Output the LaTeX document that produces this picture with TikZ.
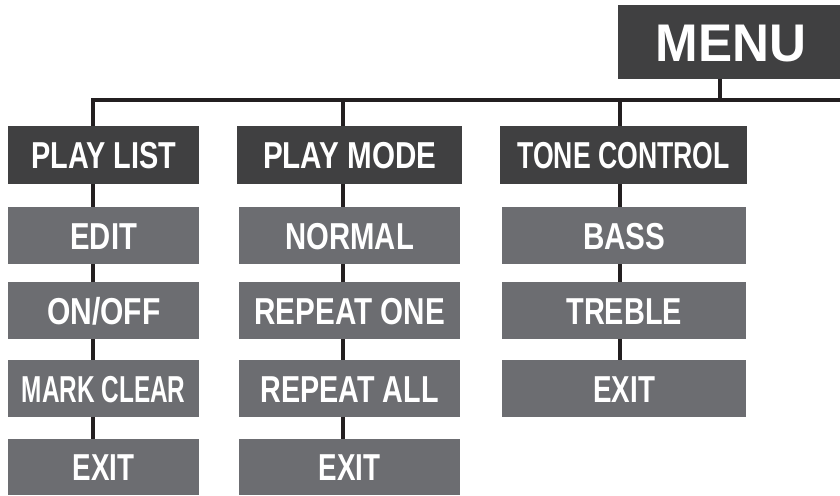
\documentclass[tikz,border=0pt]{standalone}
\usepackage{fontspec}
\setmainfont{Liberation Sans}
\usetikzlibrary{backgrounds}
\definecolor{hdr}{RGB}{64,64,65}
\definecolor{itm}{RGB}{108,109,113}
\definecolor{ln}{RGB}{35,31,32}
\newcommand\hsq[2]{\scalebox{#1}[1]{#2}}
\tikzset{
  box/.style={inner sep=0pt, text=white, anchor=north west,
    font=\bfseries\fontsize{37.5}{40}\selectfont, text height=27pt, text depth=0pt},
  hdrbox/.style={box, fill=hdr},
  itmbox/.style={box, fill=itm},
  conn/.style={draw=ln, line width=4pt, line join=miter},
}
\begin{document}
\begin{tikzpicture}[x=1pt,y=-1pt]
\useasboundingbox (0,0) rectangle (840,495);
% MENU
\node[box, fill=hdr, minimum width=226pt, minimum height=74pt,
  font=\bfseries\fontsize{53}{56}\selectfont, text height=38pt] (menu) at (618,5) {\hsq{0.965}{MENU}};
% column 1
\node[hdrbox, minimum width=191pt, minimum height=58pt] (pl) at (8,126) {\hsq{0.77}{PLAY LIST}};
\node[itmbox, minimum width=191pt, minimum height=57pt] (edit) at (8,207) {\hsq{0.78}{EDIT}};
\node[itmbox, minimum width=191pt, minimum height=57pt] (onoff) at (8,282) {\hsq{0.8}{ON/OFF}};
\node[itmbox, minimum width=191pt, minimum height=57pt] (mark) at (8,360) {\hsq{0.65}{MARK CLEAR}};
\node[itmbox, minimum width=191pt, minimum height=56pt] (exa) at (8,439) {\hsq{0.74}{EXIT}};
% column 2
\node[hdrbox, minimum width=225pt, minimum height=58pt] (pm) at (237,126) {\hsq{0.79}{PLAY MODE}};
\node[itmbox, minimum width=221pt, minimum height=57pt] (normal) at (239,207) {\hsq{0.78}{NORMAL}};
\node[itmbox, minimum width=221pt, minimum height=57pt] (rone) at (239,282) {\hsq{0.79}{REPEAT ONE}};
\node[itmbox, minimum width=221pt, minimum height=57pt] (rall) at (239,360) {\hsq{0.765}{REPEAT ALL}};
\node[itmbox, minimum width=221pt, minimum height=56pt] (exb) at (239,439) {\hsq{0.74}{EXIT}};
% column 3
\node[hdrbox, minimum width=247pt, minimum height=58pt] (tc) at (500,126) {\hsq{0.71}{TONE CONTROL}};
\node[itmbox, minimum width=244pt, minimum height=57pt] (bass) at (502,207) {\hsq{0.79}{BASS}};
\node[itmbox, minimum width=244pt, minimum height=57pt] (treble) at (502,282) {\hsq{0.77}{TREBLE}};
\node[itmbox, minimum width=244pt, minimum height=57pt] (exc) at (502,360) {\hsq{0.74}{EXIT}};
% junctions
\coordinate (j1) at (92.5,100);
\coordinate (j2) at (343.3,100);
\coordinate (j3) at (620.3,100);
\coordinate (jm) at (720,100);
\coordinate (jr) at (845,100);
\begin{scope}[on background layer]
  \draw[conn] (menu.south -| jm) -- (jm);
  \draw[conn] (j1 |- exa.center) -- (j1) -- (jr);
  \draw[conn] (j2) -- (j2 |- exb.center);
  \draw[conn] (j3) -- (j3 |- exc.center);
\end{scope}
\end{tikzpicture}
\end{document}
